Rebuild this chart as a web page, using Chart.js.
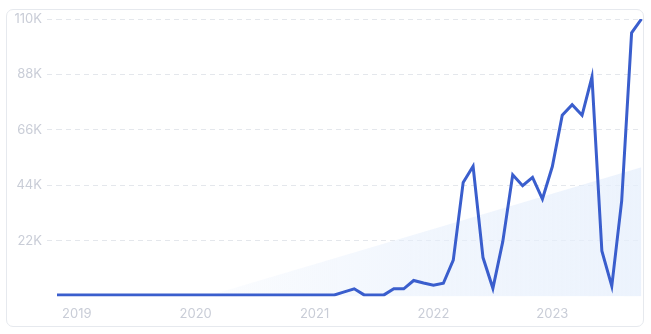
<!DOCTYPE html>
<html>
<head>
<meta charset="utf-8">
<script src="https://cdn.jsdelivr.net/npm/chart.js@4/dist/chart.umd.min.js"></script>
<style>
  html, body { margin: 0; padding: 0; background: #fff; }
  body { width: 651px; height: 334px; position: relative; overflow: hidden; }
  .card {
    position: absolute; left: 6px; top: 9px; width: 638px; height: 318px;
    border: 1px solid #e6e9ee; border-radius: 7px; box-sizing: border-box;
  }
  #wrap { position: absolute; left: 0; top: 0; width: 651px; height: 334px; }
</style>
</head>
<body>
<div class="card"></div>
<div id="wrap"><canvas id="trafficChart"></canvas></div>
<script>
// monthly categories, Nov 2018 .. Oct 2023
const firstYear = 2018;
const firstMonth = 11;
const monthCount = 60;
const months = [];
for (let i = 0; i < monthCount; i++) {
  const m = (firstMonth - 1 + i) % 12 + 1;
  const y = firstYear + Math.floor((firstMonth - 1 + i) / 12);
  months.push(y + '-' + String(m).padStart(2, '0'));
}

const traffic = [
  600, 600, 600, 600, 600, 600, 600, 600, 600, 600,
  600, 600, 600, 600, 600, 600, 600, 600, 600, 600,
  600, 600, 600, 600, 600, 600, 600, 600, 600, 1800,
  3000, 600, 600, 600, 3000, 3000, 6300, 5300, 4400, 5200,
  14400, 45200, 51600, 15400, 3200, 21800, 48200, 43900, 47200, 38600,
  51500, 71800, 76000, 71800, 87000, 18000, 4100, 37900, 104500, 110000
];

// background trend wedge: starts at Feb 2020, ends at the last month
const trendAnchors = { '2020-02': 0, '2023-10': 51200 };
const trend = months.map(m => (m in trendAnchors ? trendAnchors[m] : null));

const yTicks = [0, 22000, 44000, 66000, 88000, 110000];

const lineColor = '#3a5ecd';
const tickColor = '#c9cdd7';
const gridColor = '#e4e7ec';

function trendFill(context) {
  const chart = context.chart;
  const area = chart.chartArea;
  if (!area) return 'rgba(230,239,252,0.6)';
  const g = chart.ctx.createLinearGradient(area.left, 0, area.right, 0);
  g.addColorStop(0, 'rgba(230,239,252,0)');
  g.addColorStop(0.25, 'rgba(230,239,252,0.15)');
  g.addColorStop(0.6, 'rgba(230,239,252,0.55)');
  g.addColorStop(1, 'rgba(230,239,252,0.75)');
  return g;
}

const ctx = document.getElementById('trafficChart').getContext('2d');
const chart = new Chart(ctx, {
  type: 'line',
  data: {
    labels: months,
    datasets: [{
      label: 'Traffic',
      data: traffic,
      borderColor: lineColor,
      borderWidth: 3,
      pointRadius: 0,
      tension: 0,
      fill: false,
      order: 1
    }, {
      label: 'Trend',
      data: trend,
      spanGaps: true,
      borderWidth: 0,
      borderColor: 'rgba(0,0,0,0)',
      backgroundColor: trendFill,
      pointRadius: 0,
      fill: 'origin',
      order: 2
    }]
  },
  options: {
    responsive: true,
    maintainAspectRatio: false,
    animation: false,
    layout: { padding: { top: 19, right: 9, bottom: 3, left: 0 } },
    plugins: {
      legend: { display: false },
      tooltip: { enabled: false }
    },
    scales: {
      x: {
        grid: { display: false, drawTicks: false },
        border: { display: false },
        ticks: {
          autoSkip: false,
          maxRotation: 0,
          minRotation: 0,
          padding: 9.5,
          color: tickColor,
          font: { family: 'Inter', size: 13 },
          callback: function (value) {
            const label = this.getLabelForValue(value);
            return label.endsWith('-01') ? label.slice(0, 4) : '';
          }
        }
      },
      y: {
        min: 0,
        max: 110000,
        afterFit: scale => { scale.width = 57; },
        afterBuildTicks: scale => { scale.ticks = yTicks.map(v => ({ value: v })); },
        grid: {
          color: c => (c.tick && c.tick.value === 0 ? 'rgba(0,0,0,0)' : gridColor),
          drawTicks: true,
          tickLength: 10,
          tickBorderDash: [5, 4]
        },
        border: { display: false, dash: [5, 4] },
        ticks: {
          padding: 5,
          color: tickColor,
          font: { family: 'Inter', size: 13 },
          callback: v => (v === 0 ? '' : (v / 1000) + 'K')
        }
      }
    }
  }
});
</script>
</body>
</html>
